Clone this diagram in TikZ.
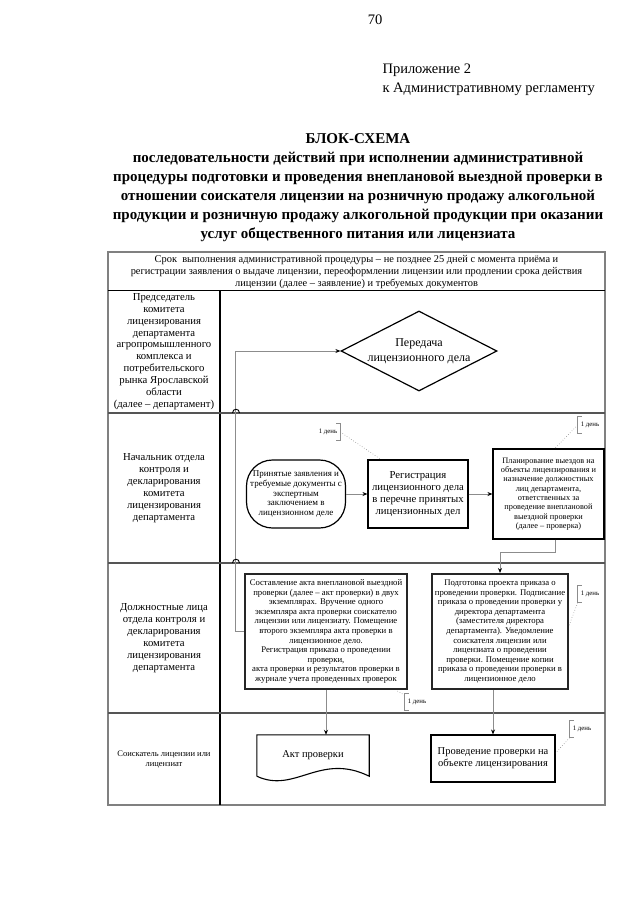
\documentclass[tikz,border=0pt]{standalone}
\usepackage{fontspec}
\setmainfont{Liberation Serif}
\usetikzlibrary{arrows.meta,shapes.geometric,positioning,calc}
\definecolor{lanegray}{RGB}{128,128,128}
\definecolor{sepgray}{RGB}{85,85,85}
\definecolor{conngray}{RGB}{140,140,140}
\newcommand{\fs}[2]{\fontsize{#1}{#2}\selectfont}

\begin{document}
\begin{tikzpicture}[x=1pt,y=-1pt,
  lane/.style={align=center, font=\fs{10.7}{11.9}},
  stepbox/.style={draw, line width=1.1pt, align=center, inner sep=1pt},
  bigbox/.style={draw=black!85, line width=2pt, align=center, inner sep=2pt, font=\fs{8.7}{9.6}},
  conn/.style={draw=conngray, line width=0.8pt, -{Stealth[length=5pt,width=4pt,color=black]}},
  note/.style={font=\fs{6.8}{7}, inner xsep=3pt, inner ysep=0pt, minimum height=17},
  bracket/.style={draw=conngray, line width=0.5pt},
  noteline/.style={draw=conngray, line width=0.6pt, dotted}
]
  \useasboundingbox (0,0) rectangle (640,905);

  \node[font=\fs{14.5}{16}] (pagenum) at (375,20) {70};
  \node[font=\fs{14.5}{19}, align=left, anchor=west] (annex) at (379,79.5)
    {Приложение 2\\к Административному регламенту};
  \node[font=\bfseries\fs{15}{19}, align=center] (title) at (358,187.5)
    {БЛОК-СХЕМА\\
     последовательности действий при исполнении административной\\
     процедуры подготовки и проведения внеплановой выездной проверки в\\
     отношении соискателя лицензии на розничную продажу алкогольной\\
     продукции и розничную продажу алкогольной продукции при оказании\\
     услуг общественного питания или лицензиата};

  \draw[draw=lanegray, line width=2pt] (108,252) rectangle (605,805);
  \draw[line width=1pt] (108,290) -- (605,290);
  \draw[line width=1.5pt] (220,290) -- (220,805);
  \foreach \y in {413,563,713}
    \draw[draw=sepgray, line width=2.4pt] (108,\y) -- (605,\y);

  \node[font=\fs{10.4}{12.4}, align=center] (term) at (356.5,272)
    {Срок~~выполнения административной процедуры – не позднее 25 дней с момента приёма и\\
     регистрации заявления о выдаче лицензии, переоформлении лицензии или продлении срока действия\\
     лицензии (далее – заявление) и требуемых документов};

  \node[lane] (chair) at (164,351.5)
    {Председатель\\комитета\\лицензирования\\департамента\\агропромышленного\\комплекса и\\
     потребительского\\рынка Ярославской\\области\\(далее – департамент)};
  \node[lane] (head) at (164,488)
    {Начальник отдела\\контроля и\\декларирования\\комитета\\лицензирования\\департамента};
  \node[lane] (staff) at (164,638)
    {Должностные лица\\отдела контроля и\\декларирования\\комитета\\лицензирования\\департамента};
  \node[lane, font=\fs{8.5}{10}] (applicant) at (164,759)
    {Соискатель лицензии или\\лицензиат};

  \node[draw, shape=diamond, aspect=2, line width=1.2pt, minimum width=156, minimum height=80,
    inner sep=0pt, align=center, font=\fs{12}{15}] (transfer) at (419,351)
    {Передача\\лицензионного дела};

  \node[draw, line width=1.2pt, rounded corners=26pt, minimum width=99, minimum height=68,
    align=center, inner sep=0pt, font=\fs{9}{9.6}] (accepted) at (296,494)
    {Принятые заявления и\\требуемые документы с\\экспертным\\заключением в\\лицензионном деле};
  \node[stepbox, minimum width=100, minimum height=68, font=\fs{10.7}{11.8}] (reg) at (418,494)
    {Регистрация\\лицензионного дела\\в перечне принятых\\лицензионных дел};
  \node[stepbox, minimum width=111, minimum height=90, font=\fs{8.3}{9.3}] (plan) at (548.5,494)
    {Планирование выездов на\\объекты лицензирования и\\назначение должностных\\лиц департамента,\\
     ответственных за\\проведение внеплановой\\выездной проверки\\(далее – проверка)};

  \node[bigbox, minimum width=162, minimum height=115] (report) at (326,631.5)
    {Составление акта внеплановой выездной\\проверки (далее – акт проверки) в двух\\
     экземплярах. Вручение одного\\экземпляра акта проверки соискателю\\
     лицензии или лицензиату. Помещение\\второго экземпляра акта проверки в\\
     лицензионное дело.\\Регистрация приказа о проведении\\проверки,\\
     акта проверки и результатов проверки в\\журнале учета проведенных проверок};
  \node[bigbox, minimum width=136, minimum height=115] (order) at (500,631.5)
    {Подготовка проекта приказа о\\проведении проверки. Подписание\\
     приказа о проведении проверки у\\директора департамента\\(заместителя директора\\
     департамента). Уведомление\\соискателя лицензии или\\лицензиата о проведении\\
     проверки. Помещение копии\\приказа о проведении проверки в\\лицензионное дело};

  \node[minimum width=112, minimum height=41, inner sep=0pt, font=\fs{10.5}{12}] (act) at (313,755.5)
    {Акт проверки};
  \draw[line width=1.1pt] (act.south west) -- (act.north west) -- (act.north east) -- (act.south east)
    .. controls (320,752) and (295,794) .. (act.south west);
  \node[stepbox, minimum width=124, minimum height=47, font=\fs{10.5}{12}] (visit) at (493,758.5)
    {Проведение проверки на\\объекте лицензирования};

  \draw[conn] (accepted) -- (reg);
  \draw[conn] (reg) -- (plan);
  \draw[conn] ([xshift=6.5pt]plan.south) -- ++(0,13) -| (order.north);
  \draw[conn] (report.south) -- (report.south |- act.north);
  \draw[conn] (visit.north |- order.south) -- (visit.north);
  \draw[conn] (report.west) -- ++(-9,0) |- (transfer.west);
  \foreach \y in {413,563}
    \draw[line width=0.9pt] (232.5,\y) .. controls (232.5,\y-5) and (239.5,\y-5) .. (239.5,\y);

  \node[note] (dayreg) at (328,432) {1 день};
  \node[note] (dayplan) at (590,425) {1 день};
  \node[note] (dayorder) at (590,594) {1 день};
  \node[note] (dayreport) at (417,702) {1 день};
  \node[note] (dayvisit) at (582,729) {1 день};
  \draw[bracket] ([xshift=-4pt]dayreg.north east) -- (dayreg.north east) -- (dayreg.south east)
    -- ([xshift=-4pt]dayreg.south east);
  \foreach \n in {dayplan,dayorder,dayreport,dayvisit}
    \draw[bracket] ([xshift=4pt]\n.north west) -- (\n.north west) -- (\n.south west)
      -- ([xshift=4pt]\n.south west);
  \draw[noteline] (dayreg.east) -- (reg.137);
  \draw[noteline] (dayplan.west) -- (plan.82);
  \draw[noteline] (dayorder.south west) -- (order.5);
  \draw[noteline] ([yshift=-2pt]dayreport.north west) -- (report.320);
  \draw[noteline] (dayvisit.south west) -- (visit.5);
\end{tikzpicture}
\end{document}
